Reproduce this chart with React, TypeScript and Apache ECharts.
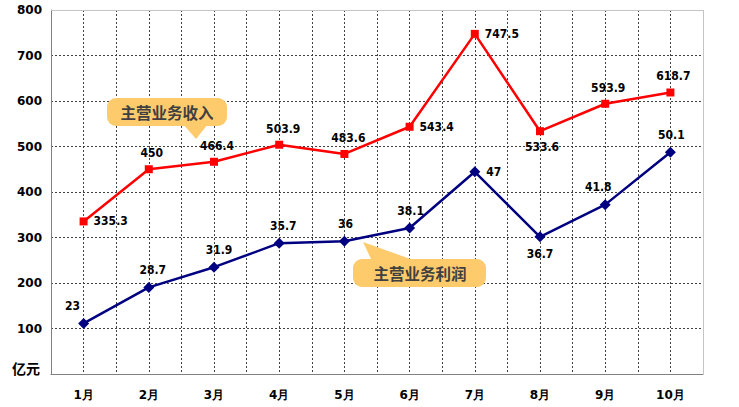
import React, { useEffect, useRef } from 'react';
import * as echarts from 'echarts';

const months = ['1月', '2月', '3月', '4月', '5月', '6月', '7月', '8月', '9月', '10月'];
const revenue = [335.3, 450, 466.4, 503.9, 483.6, 543.4, 747.5, 533.6, 593.9, 618.7];
const profit = [23, 28.7, 31.9, 35.7, 36, 38.1, 47, 36.7, 41.8, 50.1];
const yTicks = [0, 800, 100];

const revenueLabelPos = ['right', 'top', 'top', 'top', 'top', 'right', 'right', 'bottom', 'top', 'top'];
const profitLabelPos = ['top', 'top', 'top', 'top', 'top', 'top', 'right', 'bottom', 'top', 'top'];
const profitLabelOffset = [[-11, 0], [4, 0], [5, 0], [4, 0], [1, 0], [1, 0], [0, 0], [0, 0], [-7, 0], [1, 0]];
const revenueLabelOffset = [[0, 0], [3, 0], [3, 0], [4, 0], [4, 0], [0, 0], [0, 0], [2, 0], [3, 0], [3, 0]];

const LABEL_FONT = '"DejaVu Sans Condensed", "DejaVu Sans", sans-serif';
const AXIS_FONT = '"DejaVu Sans", sans-serif';
const CALLOUT = '#FDCB6C';

export default function App() {
  const ref = useRef<HTMLDivElement>(null);
  useEffect(() => {
    const chart = echarts.init(ref.current!, null, { renderer: 'svg' });
    const dataLabel = {
      show: true,
      fontFamily: LABEL_FONT,
      fontWeight: 'bold',
      fontSize: 12,
      color: '#000',
      distance: 6,
    };
    const option: any = {
      animation: false,
      backgroundColor: '#fff',
      grid: { left: 51, right: 36, top: 10, bottom: 33, show: false },
      xAxis: [
        {
          type: 'category',
          data: months,
          boundaryGap: true,
          axisLine: { lineStyle: { color: '#808080', width: 1 } },
          axisTick: { show: false },
          axisLabel: { color: '#000', fontWeight: 'bold', fontSize: 12, margin: 15, fontFamily: AXIS_FONT },
          splitLine: { show: false },
        },
        {
          type: 'value',
          min: 0,
          max: 20,
          interval: 1,
          position: 'top',
          axisLine: { show: false },
          axisTick: { show: false },
          axisLabel: { show: false },
          splitLine: { show: true, lineStyle: { type: [2, 2], color: '#404040', width: 1 } },
        },
      ],
      yAxis: [
        {
          type: 'value',
          min: yTicks[0],
          max: yTicks[1],
          interval: yTicks[2],
          axisLine: { show: true, lineStyle: { color: '#808080', width: 1 } },
          axisTick: { show: false },
          axisLabel: {
            formatter: (v: number) => (v === 0 ? '' : String(v)),
            color: '#000',
            fontWeight: 'bold',
            fontSize: 12,
            margin: 9,
            fontFamily: AXIS_FONT,
          },
          splitLine: { show: true, lineStyle: { type: [2, 2], color: '#404040', width: 1 } },
        },
        { type: 'value', min: 15, max: 72.6, show: false },
      ],
      series: [
        {
          type: 'line',
          name: '主营业务收入',
          xAxisIndex: 0,
          yAxisIndex: 0,
          data: revenue.map((v, i) => ({
            value: v,
            label: { position: revenueLabelPos[i], offset: revenueLabelOffset[i] },
          })),
          symbol: 'rect',
          symbolSize: 8,
          itemStyle: { color: '#FF0000' },
          lineStyle: { color: '#FF0000', width: 2.5 },
          label: dataLabel,
          z: 3,
        },
        {
          type: 'line',
          name: '主营业务利润',
          xAxisIndex: 0,
          yAxisIndex: 1,
          data: profit.map((v, i) => ({
            value: v,
            label: { position: profitLabelPos[i], offset: profitLabelOffset[i] },
          })),
          symbol: 'diamond',
          symbolSize: 11,
          itemStyle: { color: '#000080' },
          lineStyle: { color: '#000080', width: 2.5 },
          label: dataLabel,
          z: 3,
        },
      ],
      graphic: [
        { type: 'line', shape: { x1: 51, y1: 10.5, x2: 703.5, y2: 10.5 }, style: { stroke: '#c4c4c4', lineWidth: 1 }, z: 10 },
        { type: 'line', shape: { x1: 703.5, y1: 10, x2: 703.5, y2: 374 }, style: { stroke: '#c4c4c4', lineWidth: 1 }, z: 10 },
        { type: 'text', left: 12, top: 361, style: { text: '亿元', font: 'bold 14px "Noto Sans CJK SC", sans-serif', fill: '#000' }, z: 10 },
        // callout 1
        { type: 'polygon', shape: { points: [[183, 124], [208, 124], [196, 139]] }, style: { fill: CALLOUT }, z: 20 },
        { type: 'rect', shape: { x: 107, y: 98, width: 120, height: 28, r: 9 }, style: { fill: CALLOUT }, z: 20 },
        {
          type: 'text', x: 167, y: 112,
          style: { text: '主营业务收入', font: 'bold 15.5px "Noto Sans CJK SC", sans-serif', fill: '#404040', align: 'center', verticalAlign: 'middle' },
          z: 21,
        },
        // callout 2
        { type: 'polygon', shape: { points: [[363, 242], [372, 261], [416, 261]] }, style: { fill: CALLOUT }, z: 20 },
        { type: 'rect', shape: { x: 353, y: 259, width: 133, height: 28, r: 9 }, style: { fill: CALLOUT }, z: 20 },
        {
          type: 'text', x: 420, y: 273,
          style: { text: '主营业务利润', font: 'bold 15.5px "Noto Sans CJK SC", sans-serif', fill: '#404040', align: 'center', verticalAlign: 'middle' },
          z: 21,
        },
      ],
    };
    chart.setOption(option);
    return () => chart.dispose();
  }, []);
  return (
    <div
      ref={ref}
      style={{ position: 'fixed', left: 0, top: 0, width: 739, height: 407, background: '#fff' }}
    />
  );
}
